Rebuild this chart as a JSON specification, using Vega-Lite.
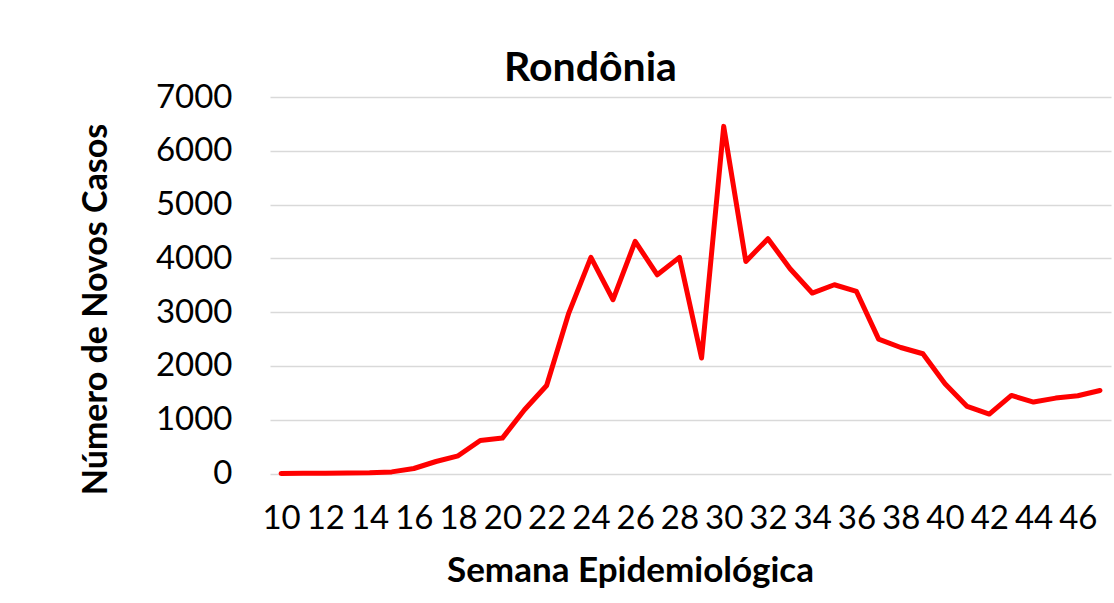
{
  "$schema": "https://vega.github.io/schema/vega-lite/v6.json",
  "width": 841,
  "height": 376.5,
  "autosize": {"type": "none"},
  "padding": {"left": 270, "top": 97, "right": 3, "bottom": 129.5},
  "background": "white",
  "title": {
    "text": "Rondônia",
    "font": "Lato",
    "fontSize": 41,
    "fontWeight": "bold",
    "color": "#000000",
    "anchor": "middle",
    "frame": "group",
    "dx": -100,
    "offset": -9
  },
  "data": {
    "values": [
      {"semana": 10, "casos": 0},
      {"semana": 11, "casos": 3},
      {"semana": 12, "casos": 5},
      {"semana": 13, "casos": 8},
      {"semana": 14, "casos": 12},
      {"semana": 15, "casos": 30},
      {"semana": 16, "casos": 93},
      {"semana": 17, "casos": 223},
      {"semana": 18, "casos": 329},
      {"semana": 19, "casos": 614},
      {"semana": 20, "casos": 658},
      {"semana": 21, "casos": 1185},
      {"semana": 22, "casos": 1637},
      {"semana": 23, "casos": 2983},
      {"semana": 24, "casos": 4018},
      {"semana": 25, "casos": 3231},
      {"semana": 26, "casos": 4316},
      {"semana": 27, "casos": 3695},
      {"semana": 28, "casos": 4018},
      {"semana": 29, "casos": 2146},
      {"semana": 30, "casos": 6454},
      {"semana": 31, "casos": 3943},
      {"semana": 32, "casos": 4365},
      {"semana": 33, "casos": 3807},
      {"semana": 34, "casos": 3355},
      {"semana": 35, "casos": 3509},
      {"semana": 36, "casos": 3385},
      {"semana": 37, "casos": 2499},
      {"semana": 38, "casos": 2343},
      {"semana": 39, "casos": 2226},
      {"semana": 40, "casos": 1668},
      {"semana": 41, "casos": 1246},
      {"semana": 42, "casos": 1105},
      {"semana": 43, "casos": 1451},
      {"semana": 44, "casos": 1328},
      {"semana": 45, "casos": 1402},
      {"semana": 46, "casos": 1445},
      {"semana": 47, "casos": 1544}
    ]
  },
  "mark": {"type": "line", "color": "#FF0000", "strokeWidth": 5, "strokeCap": "round", "strokeJoin": "round"},
  "encoding": {
    "x": {
      "field": "semana",
      "type": "ordinal",
      "sort": "ascending",
      "scale": {"type": "point", "padding": 0.5},
      "axis": {
        "title": "Semana Epidemiológica",
        "values": [10, 12, 14, 16, 18, 20, 22, 24, 26, 28, 30, 32, 34, 36, 38, 40, 42, 44, 46],
        "labelAngle": 0,
        "labelFont": "Lato",
        "labelFontSize": 33,
        "labelColor": "#000000",
        "labelPadding": 29,
        "labelOverlap": false,
        "ticks": false,
        "domain": false,
        "grid": false,
        "titleFont": "Lato",
        "titleFontSize": 35,
        "titleFontWeight": "bold",
        "titleColor": "#000000",
        "titleX": 360,
        "titleY": 108,
        "titleAlign": "center",
        "titleBaseline": "alphabetic",
        "titleAnchor": null
      }
    },
    "y": {
      "field": "casos",
      "type": "quantitative",
      "scale": {"domain": [0, 7000], "nice": false},
      "axis": {
        "title": "Número de Novos Casos",
        "values": [0, 1000, 2000, 3000, 4000, 5000, 6000, 7000],
        "format": "d",
        "labelFont": "Lato",
        "labelFontSize": 33,
        "labelColor": "#000000",
        "labelPadding": 38,
        "ticks": false,
        "domain": false,
        "grid": true,
        "gridColor": "#D9D9D9",
        "gridWidth": 1.5,
        "titleFont": "Lato",
        "titleFontSize": 34,
        "titleFontWeight": "bold",
        "titleColor": "#000000",
        "titleX": -164,
        "titleY": 212,
        "titleAngle": -90,
        "titleAlign": "center",
        "titleBaseline": "alphabetic",
        "titleAnchor": null
      }
    }
  },
  "config": {"view": {"stroke": null}}
}
